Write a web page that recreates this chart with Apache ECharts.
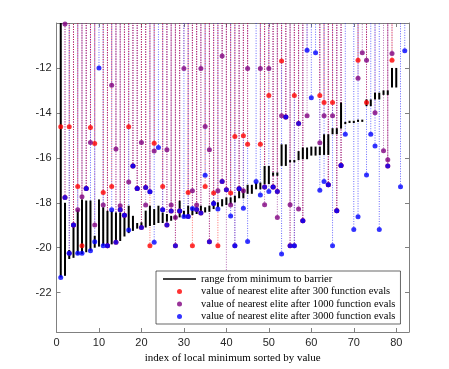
<!DOCTYPE html>
<html><head><meta charset="utf-8">
<script src="https://cdn.jsdelivr.net/npm/echarts@6/dist/echarts.min.js"></script>
<style>html,body{margin:0;padding:0;background:#fff}#c{width:449px;height:369px}</style>
</head><body><div id="c"></div>
<script>
// index 1..82
var minVals = [-21.32,-21.25,-20.5,-20.45,-20.3,-20.28,-20.2,-20.13,-20.0,-19.95,
-19.91,-19.9,-19.85,-19.8,-19.7,-19.5,-19.35,-19.25,-19.15,-19.13,
-19.1,-19.03,-18.99,-18.9,-18.9,-18.84,-18.8,-18.73,-18.65,-18.65,
-18.58,-18.55,-18.5,-18.46,-18.43,-18.4,-18.28,-18.2,-18.16,-18.1,
-18.06,-17.98,-17.8,-17.8,-17.6,-17.6,-17.4,-17.4,-17.17,-17.17,
-16.8,-16.8,-16.36,-16.36,-16.2,-16.2,-16.1,-16.06,-16.06,-15.9,
-15.9,-15.88,-15.87,-15.87,-14.95,-14.95,-14.7,-14.5,-14.45,-14.45,
-14.4,-14.4,-13.7,-13.7,-13.4,-13.4,-13.2,-13.2,-12.87,-12.87,null,null];
var barrierVals = [-9,-18.0,-20.1,-19.0,-18.31,-17.85,-17.9,-17.9,-19.47,-17.85,
-18.2,-18.36,-18.36,-18.43,-18.43,-18.58,-18.13,-18.58,-18.9,-18.87,
-18.35,-18.13,-18.28,-18.13,-18.43,-18.5,-18.58,-18.58,-17.91,-18.36,
-18.13,-18.2,-18.36,-18.13,-18.2,-18.13,-17.91,-17.98,-17.84,-17.76,
-17.76,-17.69,-17.4,-17.4,-17.2,-17.2,-17.1,-17.1,-16.36,-16.36,
-16.65,-16.65,-15.4,-15.4,-16.1,-16.1,-15.7,-15.54,-15.54,-15.5,
-15.5,-15.5,-14.95,-14.95,-14.68,-14.68,-13.54,-14.4,-14.35,-14.35,
-14.3,-14.3,-13.4,-13.4,-13.1,-13.1,-13.0,-13.0,-12.0,-12.0,null,null];
var elite300 = [-14.62,-17.76,-14.62,-18.99,-17.27,-19.91,-17.37,-14.65,-15.36,null,
-17.54,-19.91,-17.27,-19.76,-18.31,-18.55,-14.62,-16.36,-17.37,-19.1,
-17.32,-19.91,-15.35,null,-17.27,-18.99,-18.37,-19.91,-18.37,null,
-17.54,-19.91,-18.3,-18.45,-17.27,-19.73,-17.56,-19.91,-17.05,-17.42,
-17.56,-15.05,-17.38,-15.02,-15.39,null,null,-15.39,-17.3,-13.23,
-17.3,-17.5,-11.69,-14.18,-19.91,-13.23,-14.47,-18.8,null,null,
null,-13.23,-13.54,-17.2,-13.54,-18.36,-16.34,null,null,null,
-11.66,null,-13.54,null,null,null,null,-16.36,-11.66,null,null,null];
var elite1000 = [null,-10.05,-20.25,-18.99,-18.31,-17.73,-17.37,-15.32,-18.99,null,
-18.1,-19.91,-12.77,-15.61,-18.13,-18.55,-17.07,-16.36,-17.37,-15.32,
-18.1,-17.51,-15.7,null,-18.31,-15.64,-18.1,-18.65,-18.37,-12.03,
-18.61,-17.47,-18.1,-12.03,-14.61,-15.64,-18.03,-17.47,-11.47,-22.0,
-18.1,-19.91,-17.38,-17.47,-12.03,null,null,-12.03,-18.09,-12.03,
-17.3,-18.65,-14.13,-14.18,-18.09,-19.91,-18.28,-18.8,-14.13,null,
null,-15.33,-14.13,-17.2,-14.13,-18.36,-16.34,null,null,null,
-12.46,-11.32,-11.66,null,-13.99,null,-15.69,-16.09,-11.36,null,null,null];
var elite3000 = [-21.32,-17.76,-20.25,-18.99,-20.25,-20.25,-17.37,-20.13,-19.73,-12.0,
-19.91,-19.91,-18.31,-19.76,-18.31,-18.55,-19.21,-16.36,-17.37,-19.1,
-17.32,-17.51,-19.76,-15.54,-18.31,-18.99,-18.37,-19.91,-18.37,-18.61,
-18.61,-18.25,-18.3,-18.45,-16.77,-19.73,-18.03,-18.28,-17.05,-17.42,
-18.59,-19.91,-17.38,-18.24,-19.72,null,-17.05,-17.65,-17.3,-17.5,
-17.3,-17.5,-20.28,-14.18,-19.91,-19.91,-14.47,-18.8,-11.21,-13.33,
-11.32,-17.44,-17.05,-17.2,-19.91,-18.36,-16.34,-14.95,null,-19.19,
-18.62,null,-16.76,-14.95,-15.47,-19.19,null,-16.36,null,null,-17.29,-11.24];
var xTicks = [0,10,20,30,40,50,60,70,80];
var yTicks = [-22,-20,-18,-16,-14,-12];
var legendNames = ['range from minimum to barrier',
 'value of nearest elite after 300 function evals',
 'value of nearest elite after 1000 function evals',
 'value of nearest elite after 3000 function evals'];

var X_MIN = 0, X_MAX = 83, Y_MIN = -23.75, Y_MAX = -10;
var RED = '#ff0000', PURPLE = '#800080', BLUE = '#0000ff';

function pts(arr){ var o=[]; arr.forEach(function(v,k){ if(v!==null) o.push([k+1,v]); }); return o; }
var bars = []; minVals.forEach(function(m,k){ if(m!==null && barrierVals[k]!==null) bars.push([k+1,m,barrierVals[k]]); });

function dotted(color){
  return function(p, api){
    var x = api.value(0), v = api.value(1);
    var a = api.coord([x, Math.max(v, Y_MIN)]), b = api.coord([x, Y_MAX]);
    return {type:'line', shape:{x1:a[0],y1:a[1],x2:b[0],y2:b[1]},
      style:{stroke:color, lineWidth:1, lineDash:[1,1.5], opacity:0.6}};
  };
}
function barRender(p, api){
  var x = api.value(0);
  var a = api.coord([x, api.value(1)]), b = api.coord([x, Math.min(api.value(2), Y_MAX)]);
  return {type:'line', shape:{x1:a[0],y1:a[1],x2:b[0],y2:b[1]}, style:{stroke:'#000', lineWidth:2}};
}
var axisCol = '#808080', txtCol = '#262626';
var chart = echarts.init(document.getElementById('c'), null, {renderer:'canvas'});
chart.setOption({
  animation:false,
  backgroundColor:'#fff',
  grid:{left:56.5, right:40, top:23, bottom:37, containLabel:false},
  legend:{
    orient:'vertical', left:156, top:271,
    data:[{name:legendNames[0], icon:'path://M0,0H40V2H0Z'},
          {name:legendNames[1], icon:'circle'},
          {name:legendNames[2], icon:'circle'},
          {name:legendNames[3], icon:'circle'}],
    itemWidth:33, itemHeight:5, itemGap:0.5,
    padding:[2,5,1.5,7],
    backgroundColor:'#fff', borderColor:'#262626', borderWidth:0.7, borderRadius:0,
    textStyle:{fontFamily:'Liberation Serif', fontSize:10.5, color:'#000', lineHeight:12},
    selectedMode:false, z:10
  },
  xAxis:[{type:'value', min:X_MIN, max:X_MAX, position:'bottom',
    name:'index of local minimum sorted by value', nameLocation:'middle', nameGap:19,
    nameTextStyle:{fontFamily:'Liberation Serif', fontSize:11, color:'#000'},
    axisLine:{show:true, lineStyle:{color:axisCol, width:1}},
    axisTick:{show:true, inside:true, length:4, customValues:xTicks, lineStyle:{color:axisCol}},
    axisLabel:{customValues:xTicks, margin:5, fontFamily:'Liberation Sans', fontSize:11, color:txtCol},
    splitLine:{show:false}},
   {type:'value', min:X_MIN, max:X_MAX, position:'top',
    axisLine:{show:true, onZero:false, lineStyle:{color:axisCol, width:1}},
    axisTick:{show:true, inside:true, length:4, customValues:xTicks, lineStyle:{color:axisCol}},
    axisLabel:{show:false}, splitLine:{show:false}}],
  yAxis:[{type:'value', min:Y_MIN, max:Y_MAX, position:'left',
    axisLine:{show:true, onZero:false, lineStyle:{color:axisCol, width:1}},
    axisTick:{show:true, inside:true, length:4, customValues:yTicks, lineStyle:{color:axisCol}},
    axisLabel:{customValues:yTicks, margin:5, fontFamily:'Liberation Sans', fontSize:11, color:txtCol},
    splitLine:{show:false}},
   {type:'value', min:Y_MIN, max:Y_MAX, position:'right',
    axisLine:{show:true, onZero:false, lineStyle:{color:axisCol, width:1}},
    axisTick:{show:true, inside:true, length:4, customValues:yTicks, lineStyle:{color:axisCol}},
    axisLabel:{show:false}, splitLine:{show:false}}],
  series:[
    {type:'custom', name:'l3000', renderItem:dotted(BLUE), data:pts(elite3000), z:1, clip:true, silent:true},
    {type:'custom', name:'l1000', renderItem:dotted(PURPLE), data:pts(elite1000), z:1, clip:true, silent:true},
    {type:'custom', name:'l300', renderItem:dotted(RED), data:pts(elite300), z:1, clip:true, silent:true},
    {type:'custom', name:legendNames[0], renderItem:barRender, data:bars, itemStyle:{color:'#000'}, z:2, clip:true},
    {type:'scatter', name:legendNames[1], data:pts(elite300), symbolSize:5, itemStyle:{color:RED}, z:3},
    {type:'scatter', name:legendNames[2], data:pts(elite1000), symbolSize:5, itemStyle:{color:PURPLE}, z:3},
    {type:'scatter', name:legendNames[3], data:pts(elite3000), symbolSize:5, itemStyle:{color:BLUE}, z:3}
  ]
});
</script></body></html>
